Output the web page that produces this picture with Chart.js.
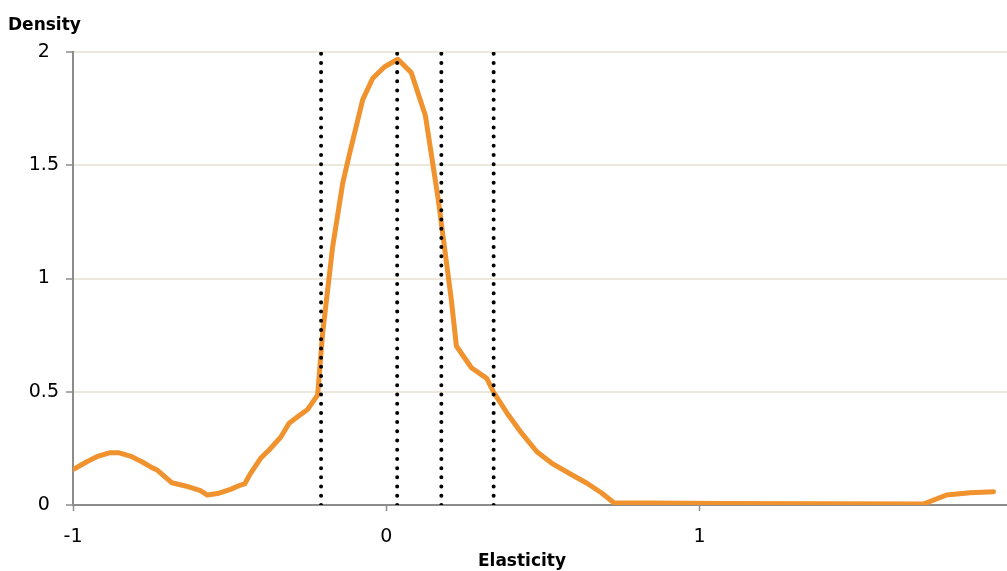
<!DOCTYPE html>
<html>
<head>
<meta charset="utf-8">
<script src="https://cdn.jsdelivr.net/npm/chart.js@4/dist/chart.umd.min.js"></script>
<style>
  html, body { margin: 0; padding: 0; background: #fff; }
  #wrap { width: 1007px; height: 571px; position: relative; }
</style>
</head>
<body>
<div id="wrap"><canvas id="chart"></canvas></div>
<script>
// data
const elasticity = [-0.997, -0.956, -0.919, -0.881, -0.855, -0.817, -0.780, -0.748, -0.732, -0.684,
  -0.641, -0.593, -0.571, -0.534, -0.497, -0.465, -0.452, -0.433, -0.401, -0.374,
  -0.337, -0.310, -0.283, -0.251, -0.219, -0.203, -0.187, -0.171, -0.139, -0.118,
  -0.075, -0.043, -0.005, 0.037, 0.080, 0.125, 0.166, 0.208, 0.224, 0.272,
  0.321, 0.342, 0.390, 0.433, 0.481, 0.529, 0.588, 0.641, 0.689, 0.727,
  1.074, 1.400, 1.715, 1.789, 1.864, 1.939];
const density = [0.159, 0.191, 0.216, 0.231, 0.231, 0.216, 0.191, 0.165, 0.155, 0.098,
  0.084, 0.063, 0.044, 0.052, 0.069, 0.088, 0.093, 0.140, 0.206, 0.243,
  0.299, 0.361, 0.390, 0.422, 0.485, 0.758, 0.949, 1.140, 1.420, 1.545,
  1.790, 1.884, 1.935, 1.968, 1.909, 1.720, 1.350, 0.905, 0.702, 0.606,
  0.559, 0.500, 0.397, 0.316, 0.235, 0.184, 0.137, 0.096, 0.052, 0.010,
  0.007, 0.005, 0.004, 0.044, 0.054, 0.059];
const cutoffs = [-0.208, 0.035, 0.176, 0.343];   // dotted vertical lines
const yTicks = [0, 0.5, 1, 1.5, 2];
const xTickLabels = [-1, 0, 1];

const FONT = "'DejaVu Sans', sans-serif";

// dotted lines go from 0 to the top of the axis
const cutoffSets = cutoffs.map(c => ({
  data: [{x: c, y: 0}, {x: c, y: yTicks[yTicks.length - 1]}],
  showLine: true,
  borderColor: '#000',
  borderWidth: 4,
  borderDash: [0.01, 9.2],
  borderCapStyle: 'round',
  pointRadius: 0,
  order: 0
}));

// draws the axis titles the way the picture has them
const axisTitles = {
  id: 'axisTitles',
  afterDraw(chart) {
    const ctx = chart.ctx;
    ctx.save();
    ctx.fillStyle = '#000';
    ctx.font = 'bold 17px ' + FONT;
    ctx.textBaseline = 'middle';
    ctx.textAlign = 'left';
    ctx.fillText('Density', 8, 26);
    ctx.textAlign = 'center';
    ctx.fillText('Elasticity', 522, 562);
    ctx.restore();
  }
};

new Chart(document.getElementById('chart'), {
  type: 'scatter',
  data: {
    datasets: [{
      data: elasticity.map((x, i) => ({x: x, y: density[i]})),
      showLine: true,
      borderColor: '#f0922e',
      borderWidth: 5,
      borderJoinStyle: 'round',
      borderCapStyle: 'round',
      pointRadius: 0,
      tension: 0,
      order: 1
    }, ...cutoffSets]
  },
  options: {
    responsive: true,
    maintainAspectRatio: false,
    animation: false,
    layout: { padding: { top: 52, right: 0, left: 0, bottom: 0 } },
    plugins: {
      legend: { display: false },
      tooltip: { enabled: false }
    },
    scales: {
      x: {
        type: 'linear',
        min: -1,
        max: 1.982,
        afterBuildTicks(axis) {
          axis.ticks = xTickLabels.map(v => ({value: v}));
        },
        afterFit(axis) { axis.height = 66; },
        grid: {
          drawOnChartArea: false,
          drawTicks: true,
          tickLength: 6,
          tickColor: '#8c8c8c',
          tickWidth: 1.5
        },
        border: { color: '#8c8c8c', width: 2 },
        ticks: {
          color: '#000',
          font: { family: FONT, size: 19 },
          padding: 15,
          maxRotation: 0,
          callback: v => String(v)
        }
      },
      y: {
        min: 0,
        max: 2,
        afterBuildTicks(axis) {
          axis.ticks = yTicks.map(v => ({value: v}));
        },
        afterFit(axis) { axis.width = 73; },
        grid: {
          color: '#ede8dc',
          lineWidth: 2,
          drawTicks: true,
          tickLength: 7,
          tickColor: '#8c8c8c',
          tickWidth: 1.5
        },
        border: { color: '#8c8c8c', width: 2 },
        ticks: {
          color: '#000',
          font: { family: FONT, size: 19 },
          padding: 7,
          crossAlign: 'center',
          callback: v => String(v)
        }
      }
    }
  },
  plugins: [axisTitles]
});
</script>
</body>
</html>
